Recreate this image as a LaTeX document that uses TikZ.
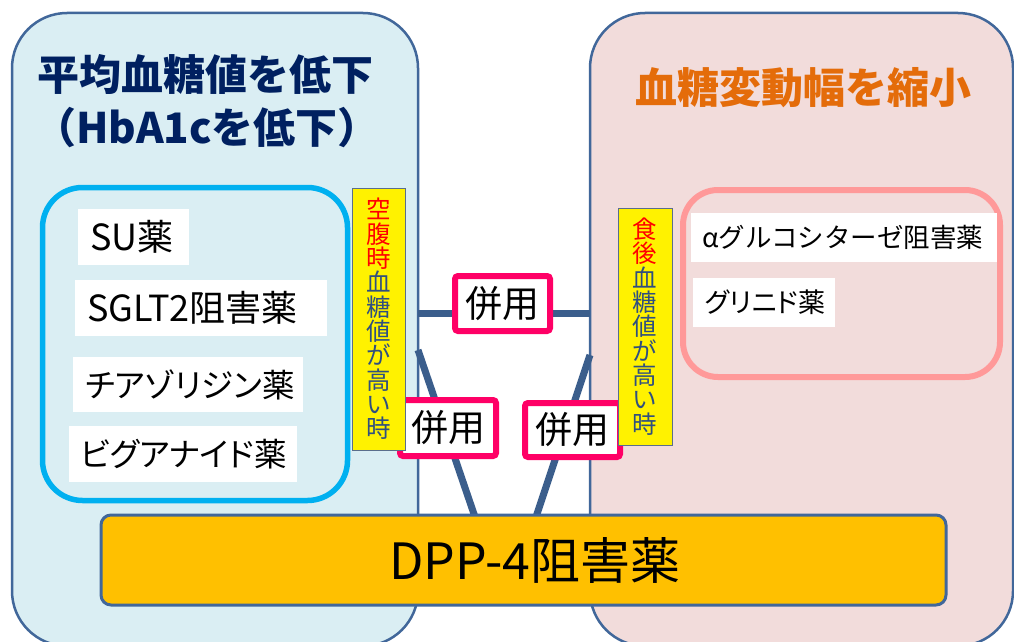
\documentclass[tikz,border=0pt]{standalone}
\usepackage{fontspec}
\setmainfont{Noto Sans CJK JP}[BoldFont={Noto Sans CJK JP Bold}]
\newfontfamily\jpheavy{Noto Sans CJK JP Black}
\newfontfamily\jpprop{Noto Sans CJK JP}[RawFeature=+palt]
\definecolor{panelblue}{HTML}{DAEEF3}
\definecolor{panelpink}{HTML}{F2DCDB}
\definecolor{frameblue}{HTML}{41679A}
\definecolor{linkblue}{HTML}{3B5E8C}
\definecolor{navy}{HTML}{002060}
\definecolor{orangeT}{HTML}{E46C0A}
\definecolor{cyanB}{HTML}{00B0F0}
\definecolor{pinkB}{HTML}{FF9999}
\definecolor{magentaB}{HTML}{FF0066}
\definecolor{goldF}{HTML}{FFC000}
\definecolor{vblue}{HTML}{2F4F80}
\definecolor{ygray}{HTML}{5A6E8C}
\begin{document}
\begin{tikzpicture}[x=1pt,y=-1pt,
  panel/.style={draw=frameblue, line width=2.5pt, rounded corners=55pt},
  wbox/.style={fill=white, inner ysep=0pt, anchor=north west, align=left, font=\jpprop\fontsize{36}{36}\selectfont},
  wboxk/.style={wbox, font=\jpprop\fontsize{32.5}{32.5}\selectfont},
  wboxs/.style={wbox, font=\fontsize{26.5}{26.5}\selectfont},
  wboxp/.style={wbox, font=\jpprop\fontsize{27}{27}\selectfont},
  link/.style={draw=linkblue, line width=7pt},
  heiyo/.style={draw=magentaB, line width=6pt, fill=white, rounded corners=3pt, inner sep=0pt, font=\fontsize{37}{37}\selectfont},
  ybox/.style={fill=yellow, draw=ygray, line width=0.8pt, inner sep=0pt},
  vtext/.style={align=center, inner sep=0pt, font=\fontsize{24.5}{24.3}\selectfont, text=vblue},
  title/.style={inner sep=0pt, font=\jpheavy\fontsize{42}{53}\selectfont, align=center},
]
\useasboundingbox (0,0) rectangle (1014,642);
\clip (0,0) rectangle (1014,642);
\fill[white] (0,0) rectangle (1014,642);

% panels
\draw[panel, fill=panelblue] (12,13) rectangle (418,646);
\draw[panel, fill=panelpink] (590,13) rectangle (1013,646);

% inner group boxes
\draw[draw=cyanB, line width=5.5pt, rounded corners=40pt] (42.5,187.5) rectangle (347.5,500.5);
\draw[draw=pinkB, line width=6pt, rounded corners=35pt] (683,190) rectangle (1000,377);

% titles
\node[title, text=navy] (t1) at (205,75) {平均血糖値を低下};
\node[title, text=navy] (t2) at (207,128) {（HbA1cを低下）};
\node[title, text=orangeT] (t3) at (803,88) {血糖変動幅を縮小};

% drug labels
\node[wbox, inner xsep=12pt, text width=87pt, minimum height=56pt] (su) at (78,209) {SU薬};
\node[wbox, inner xsep=12pt, text width=228pt, minimum height=56pt] (sglt) at (75,280) {SGLT2阻害薬};
\node[wboxk, inner xsep=12pt, text width=206pt, minimum height=55pt] (thia) at (73,357) {チアゾリジン薬};
\node[wboxk, inner xsep=11pt, text width=206pt, minimum height=56pt] (big) at (69,426) {ビグアナイド薬};
\node[wboxs, inner xsep=11pt, text width=284pt, minimum height=49pt] (alpha) at (691,213) {αグルコシターゼ阻害薬};
\node[wboxp, inner xsep=12pt, text width=118pt, minimum height=49pt] (glin) at (693,278) {グリニド薬};

% connectors
\coordinate (hl) at (418,313);
\coordinate (hr) at (590,313);
\coordinate (dl) at (418,350);
\coordinate (dr) at (590,355);
\coordinate (bl) at (475,517);
\coordinate (br) at (536,517);
\draw[link] (hl) -- (hr);
\draw[link] (dl) -- (bl);
\draw[link] (dr) -- (br);

% combination boxes
\node[heiyo, minimum width=95pt, minimum height=55pt] (h1) at (502.5,303.5) {併用};
\node[heiyo, minimum width=96pt, minimum height=56pt] (h2) at (448,428) {併用};
\node[heiyo, minimum width=95pt, minimum height=54pt] (h3) at (572.5,430) {併用};

% yellow vertical notes
\node[ybox, minimum width=53pt, minimum height=262pt] (y1) at (378.5,319) {};
\node[vtext] (y1t) at (378.5,319) {\textcolor{red}{空}\\\textcolor{red}{腹}\\\textcolor{red}{時}\\血\\糖\\値\\が\\高\\い\\時};
\node[ybox, minimum width=54pt, minimum height=237pt] (y2) at (645,326.5) {};
\node[vtext] (y2t) at (645,326.5) {\textcolor{red}{食}\\\textcolor{red}{後}\\血\\糖\\値\\が\\高\\い\\時};

% DPP-4 box
\node[draw=frameblue, line width=3pt, fill=goldF, rounded corners=10pt, minimum width=845pt, minimum height=90pt, inner sep=0pt] (dpp) at (523.5,560) {};
\node[inner sep=0pt, font=\fontsize{50}{50}\selectfont] (dpplabel) at (535,560) {DPP-4阻害薬};
\end{tikzpicture}
\end{document}
